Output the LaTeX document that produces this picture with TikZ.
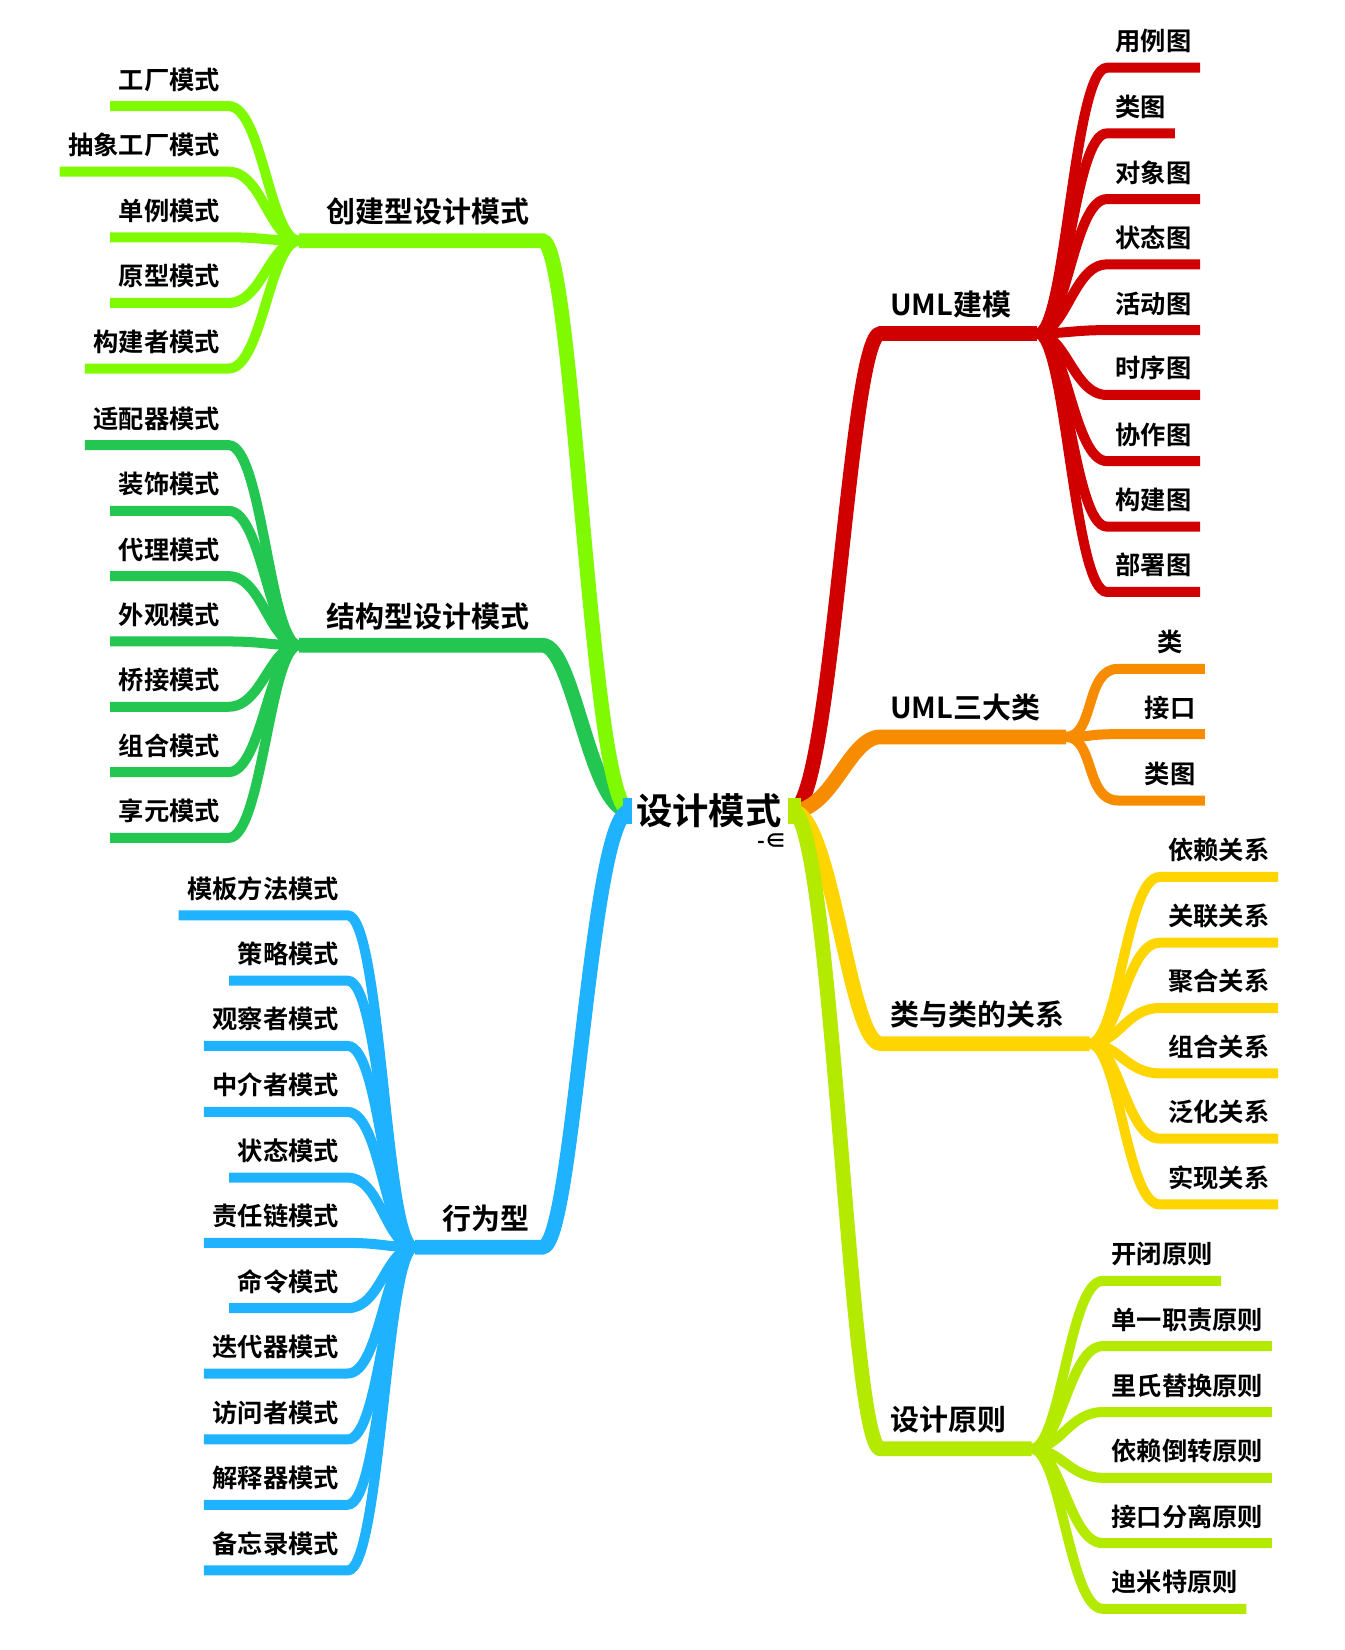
\documentclass[tikz,border=0pt]{standalone}
\usepackage{fontspec}
\newfontfamily\cjk{Noto Sans CJK SC}[BoldFont=* Bold]
\usepackage{xcolor}
\definecolor{cjx}{RGB}{128,250,0}
\definecolor{jgx}{RGB}{36,198,82}
\definecolor{xwx}{RGB}{30,178,255}
\definecolor{umx}{RGB}{208,0,0}
\definecolor{sdx}{RGB}{248,140,0}
\definecolor{gxx}{RGB}{255,213,0}
\definecolor{yzx}{RGB}{180,234,0}
\usetikzlibrary{calc}

\begin{document}
\begin{tikzpicture}[x=1pt, y=-1pt,
  leaf/.style={font=\cjk\bfseries\fontsize{24}{28}\selectfont, inner xsep=8pt, inner ysep=16pt, text depth=0pt},
  topic/.style={font=\cjk\bfseries\fontsize{27.5}{32}\selectfont, inner xsep=0pt, inner ysep=17pt, text depth=0pt},
  twig/.style={line width=9.5pt},
  bough/.style={line width=14pt}]
\useasboundingbox (0,0) rectangle (1276,1566.5);
\coordinate (hl) at (598,770);
\coordinate (hr) at (752,770);

\node[topic, anchor=south west] (um) at (845,316.6) {UML建模};
\coordinate (fum) at ([xshift=24pt]um.south east);
\draw[bough, umx] (hr) .. controls +(38,0) and +(-30,0) .. ([xshift=-9pt]um.south west) -- (fum);
\foreach \n/\y/\t in {1/64.3/用例图, 2/126.6/类图, 3/189/对象图, 4/251/状态图, 5/313.4/活动图, 6/375/时序图, 7/437.8/协作图, 8/500/构建图, 9/562/部署图}{
\node[leaf, anchor=south west] (um\n) at (1051,\y) {\t};
\draw[twig, umx] (um\n.south east) -- (um\n.south west) .. controls +(-32,0) and +(28,0) .. (fum);
}

\node[topic, anchor=south west] (sd) at (845,699.6) {UML三大类};
\coordinate (fsd) at ([xshift=24pt]sd.south east);
\draw[bough, sdx] (hr) .. controls +(38,0) and +(-30,0) .. ([xshift=-9pt]sd.south west) -- (fsd);
\foreach \n/\y/\t in {1/635/类, 2/697/接口, 3/760/类图}{
\node[leaf, anchor=south east, minimum width=66pt] (sd\n) at (1144,\y) {\t};
\draw[twig, sdx] (sd\n.south east) -- ([xshift=-16pt]sd\n.south west) .. controls +(-32,0) and +(28,0) .. (fsd);
}

\node[topic, anchor=south west] (gx) at (845,990.8) {类与类的关系};
\coordinate (fgx) at ([xshift=24pt]gx.south east);
\draw[bough, gxx] (hr) .. controls +(38,0) and +(-30,0) .. ([xshift=-9pt]gx.south west) -- (fgx);
\foreach \n/\y/\t in {1/832.6/依赖关系, 2/895/关联关系, 3/957/聚合关系, 4/1019/组合关系, 5/1081/泛化关系, 6/1143.4/实现关系}{
\node[leaf, anchor=south west] (gx\n) at (1101,\y) {\t};
\draw[twig, gxx] (gx\n.south east) -- (gx\n.south west) .. controls +(-32,0) and +(28,0) .. (fgx);
}

\node[topic, anchor=south west] (yz) at (845,1375.5) {设计原则};
\coordinate (fyz) at ([xshift=24pt]yz.south east);
\draw[bough, yzx] (hr) .. controls +(38,0) and +(-30,0) .. ([xshift=-9pt]yz.south west) -- (fyz);
\foreach \n/\y/\t in {1/1216/开闭原则, 2/1278/单一职责原则, 3/1340.6/里氏替换原则, 4/1403/依赖倒转原则, 5/1465/接口分离原则, 6/1527.4/迪米特原则}{
\node[leaf, anchor=south west] (yz\n) at (1047,\y) {\t};
\draw[twig, yzx] (yz\n.south east) -- (yz\n.south west) .. controls +(-32,0) and +(28,0) .. (fyz);
}

\node[topic, anchor=south east] (jg) at (503,612.6) {结构型设计模式};
\coordinate (fjg) at ([xshift=-26pt]jg.south west);
\draw[bough, jgx] (fjg) -- ([xshift=12pt]jg.south east) .. controls +(30,0) and +(-38,0) .. (hl);
\foreach \n/\y/\t in {1/422.6/适配器模式, 2/485/装饰模式, 3/547/代理模式, 4/609/外观模式, 5/671/桥接模式, 6/733/组合模式, 7/795.5/享元模式}{
\node[leaf, anchor=south east] (jg\n) at (217,\y) {\t};
\draw[twig, jgx] (jg\n.south west) -- (jg\n.south east) .. controls +(32,0) and +(-28,0) .. (fjg);
}

\node[topic, anchor=south east] (cj) at (503,228.6) {创建型设计模式};
\coordinate (fcj) at ([xshift=-26pt]cj.south west);
\draw[bough, cjx] (fcj) -- ([xshift=12pt]cj.south east) .. controls +(30,0) and +(-38,0) .. (hl);
\foreach \n/\y/\t in {1/100.7/工厂模式, 2/163/抽象工厂模式, 3/225.3/单例模式, 4/287.6/原型模式, 5/349.9/构建者模式}{
\node[leaf, anchor=south east] (cj\n) at (217,\y) {\t};
\draw[twig, cjx] (cj\n.south west) -- (cj\n.south east) .. controls +(32,0) and +(-28,0) .. (fcj);
}

\node[topic, anchor=south east] (xw) at (503,1184) {行为型};
\coordinate (fxw) at ([xshift=-26pt]xw.south west);
\draw[bough, xwx] (fxw) -- ([xshift=12pt]xw.south east) .. controls +(30,0) and +(-38,0) .. (hl);
\foreach \n/\y/\t in {1/869/模板方法模式, 2/931/策略模式, 3/993/观察者模式, 4/1055.7/中介者模式, 5/1118/状态模式, 6/1180/责任链模式, 7/1242/命令模式, 8/1304/迭代器模式, 9/1366.6/访问者模式, 10/1428.6/解释器模式, 11/1491/备忘录模式}{
\node[leaf, anchor=south east] (xw\n) at (330,\y) {\t};
\draw[twig, xwx] (xw\n.south west) -- (xw\n.south east) .. controls +(32,0) and +(-28,0) .. (fxw);
}

\fill[xwx] (591,758) rectangle (600,782);
\fill[yzx] (748,758) rectangle (760,782);
\node[font=\cjk\bfseries\fontsize{34.5}{40}\selectfont, inner sep=0pt, anchor=base] (hub) at (673,783) {设计模式};
\node[font=\cjk\bfseries\fontsize{20}{22}\selectfont, inner sep=0pt, anchor=base] (mark) at (733,806) {-∈};
\end{tikzpicture}
\end{document}
